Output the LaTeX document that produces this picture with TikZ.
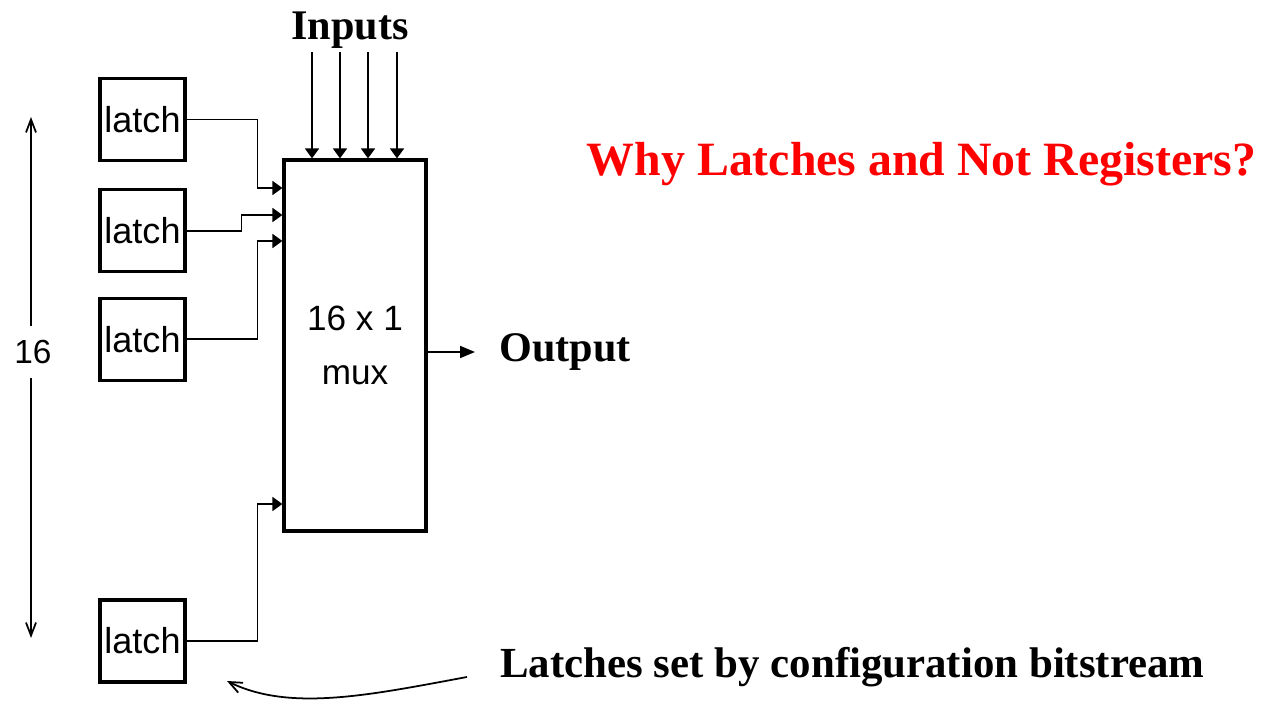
\documentclass[tikz,border=0pt]{standalone}
\usepackage{fontspec}
\setmainfont{Liberation Serif}
\newfontfamily\arialfont{Liberation Sans}
\usepackage{xcolor}
\usetikzlibrary{arrows.meta,positioning}
\definecolor{titlered}{rgb}{1.00,0.00,0.00}

\begin{document}
\begin{tikzpicture}[x=0.2mm,y=-0.2mm,
   latchbox/.style={draw,line width=1.8pt,minimum width=1.7cm,minimum height=1.64cm,
                    inner sep=0pt,font=\arialfont\fontsize{20.5}{24}\selectfont},
   muxbox/.style={draw,line width=1.8pt,minimum width=2.84cm,minimum height=7.42cm,
                  align=center,font=\arialfont\fontsize{20}{30.5}\selectfont},
   wire/.style={line width=1pt},
   bigtext/.style={font=\bfseries\fontsize{24}{28}\selectfont,inner sep=0pt}]
  \useasboundingbox (0,0) rectangle (1264,703);
  % latches and mux
  \node[latchbox] (lat1) at (142.5,119.5) {latch};
  \node[latchbox,below=0.52cm of lat1] (lat2) {latch};
  \node[latchbox,below=0.47cm of lat2] (lat3) {latch};
  \node[latchbox,below=4.33cm of lat3] (lat4) {latch};
  \node[muxbox] (mux) at (355,345.5) {16 x 1\\mux};
  % labels
  \node[bigtext,anchor=base] (inlbl) at (350,40) {Inputs};
  \node[bigtext,anchor=base west] (outlbl) at (499,362) {Output};
  \node[bigtext,anchor=base west,font=\bfseries\fontsize{24.4}{28}\selectfont] (cfglbl) at (500,678)
       {Latches set by configuration bitstream};
  \node[bigtext,anchor=base,text=titlered,font=\bfseries\fontsize{27.2}{32}\selectfont] (title) at (921.5,176)
       {Why Latches and Not Registers?};
  \node[font=\arialfont\fontsize{19}{22}\selectfont,inner xsep=2pt,inner ysep=8pt] (n16) at (33,352) {16};
  \coordinate (dimtop) at (31,117);
  \coordinate (dimbot) at (31,638);
  \draw[wire,-{Straight Barb[length=2.6mm,width=2mm]}] (n16.north -| dimtop) -- (dimtop);
  \draw[wire,-{Straight Barb[length=2.6mm,width=2mm]}] (n16.south -| dimbot) -- (dimbot);
  % latch outputs into the mux
  \coordinate (in1) at (mux.west |- 0,188);
  \coordinate (in2) at (mux.west |- 0,215);
  \coordinate (in3) at (mux.west |- 0,241);
  \coordinate (in4) at (mux.west |- 0,504);
  \draw[wire,-{Triangle[length=2mm,width=2.8mm]}] (lat1.east) -- ++(71,0) |- (in1);
  \draw[wire,-{Triangle[length=2mm,width=2.8mm]}] (lat2.east) -- ++(55,0) |- (in2);
  \draw[wire,-{Triangle[length=2mm,width=2.8mm]}] (lat3.east) -- ++(71,0) |- (in3);
  \draw[wire,-{Triangle[length=2mm,width=2.8mm]}] (lat4.east) -- ++(71,0) |- (in4);
  % inputs from the top
  \foreach \x [count=\i] in {312,340,368,397}{
    \coordinate (top\i) at (\x,52);
    \draw[wire,-{Triangle[length=2mm,width=2.8mm]}] (top\i) -- (top\i |- mux.north);
  }
  % output
  \coordinate (outend) at (475,352);
  \draw[wire,-{Triangle[length=3mm,width=2.4mm]}] (mux.east |- outend) -- (outend);
  % pointer from the bitstream text
  \coordinate (cfgstart) at (467,677);
  \coordinate (cfgtip) at (227,681);
  \draw[wire,-{Straight Barb[length=2.6mm,width=2.2mm]}] (cfgstart) .. controls (370,695) and (290,712) .. (cfgtip);
\end{tikzpicture}
\end{document}
